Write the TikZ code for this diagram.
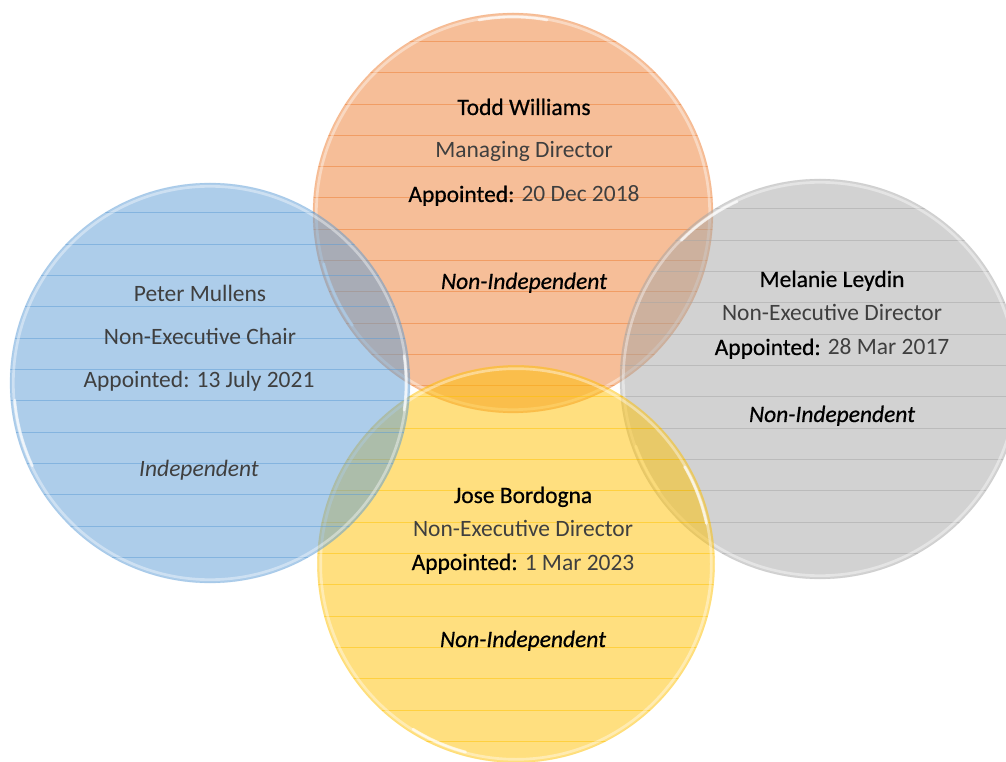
\documentclass[tikz,border=0pt]{standalone}
\usepackage{fontspec}
\setmainfont{Carlito}
\newfontfamily\heavyfont[FakeBold=0.6]{Carlito}
\definecolor{mdorange}{HTML}{ED7D31}
\definecolor{mdblue}{HTML}{5B9BD5}
\definecolor{mdgray}{HTML}{A5A5A5}
\definecolor{mdyellow}{HTML}{FFC000}
\definecolor{lighttext}{HTML}{3F3F3F}
\tikzset{%
    disc/.style={fill opacity=0.5},
    rule/.style={line width=0.75pt, draw opacity=0.5},
    rim/.style={draw=white, line width=2pt, draw opacity=0.4},
    edge/.style={line width=0.5pt, draw opacity=0.2},
    shine/.style={draw=white, line width=2pt, draw opacity=0.7, line cap=round},
    lite/.style={anchor=base, inner sep=0pt, text=lighttext, font=\fontsize{17.6}{21}\selectfont},
    dark/.style={anchor=base, inner sep=0pt, text=black, font=\fontsize{17.6}{21}\heavyfont},
}
\newcommand{\appt}{{\heavyfont\color{black}Appointed:}}

\begin{document}
\begin{tikzpicture}[x=0.75pt, y=-0.75pt]
    \useasboundingbox (0,0) rectangle (1006,762);
    % orange disc (bottom of the stack)
    \fill [disc, fill=mdorange] (513,213) circle[radius=150pt];
    \begin{scope}
        \clip (513,213) circle[radius=150pt];
        \foreach \k in {0,...,11}
            \draw [rule, mdorange] (300,41.5+31.3*\k) -- (730,41.5+31.3*\k);
    \end{scope}
    \draw [edge, mdorange] (513,213) circle[radius=150pt];
    \draw [rim] (513,213) circle[radius=147.5pt];
    \draw [shine] (513,213) +(195:147pt) arc(195:215:147pt);
    \draw [shine] (513,213) +(80:147pt) arc(80:100:147pt);
    % gray disc
    \fill [disc, fill=mdgray] (820,379) circle[radius=150pt];
    \begin{scope}
        \clip (820,379) circle[radius=150pt];
        \foreach \k in {0,...,11}
            \draw [rule, mdgray] (600,209+31.3*\k) -- (1040,209+31.3*\k);
    \end{scope}
    \draw [edge, mdgray] (820,379) circle[radius=150pt];
    \draw [rim] (820,379) circle[radius=147.5pt];
    \draw [shine] (820,379) +(115:147pt) arc(115:135:147pt);
    \draw [shine] (820,379) +(200:147pt) arc(200:215:147pt);
    % yellow disc
    \fill [disc, fill=mdyellow] (516,564) circle[radius=149pt];
    \begin{scope}
        \clip (516,564) circle[radius=149pt];
        \foreach \k in {0,...,11}
            \draw [rule, mdyellow] (300,397+31.3*\k) -- (730,397+31.3*\k);
    \end{scope}
    \draw [edge, mdyellow] (516,564) circle[radius=149pt];
    \draw [rim] (516,564) circle[radius=146.5pt];
    \draw [shine] (516,564) +(238:146pt) arc(238:255:146pt);
    \draw [shine] (516,564) +(12:146pt) arc(12:30:146pt);
    % blue disc (top of the stack)
    \fill [disc, fill=mdblue] (210,383) circle[radius=150pt];
    \begin{scope}
        \clip (210,383) circle[radius=150pt];
        \foreach \k in {0,...,11}
            \draw [rule, mdblue] (0,213+31.3*\k) -- (420,213+31.3*\k);
    \end{scope}
    \draw [edge, mdblue] (210,383) circle[radius=150pt];
    \draw [rim] (210,383) circle[radius=147.5pt];
    \draw [shine] (210,383) +(185:147pt) arc(185:205:147pt);
    \draw [shine] (210,383) +(-8:147pt) arc(-8:8:147pt);
    % texts
    \node (toddname) [dark] at (524,115) {Todd Williams};
    \node (toddrole) [lite] at (524,158) {Managing Director};
    \node (toddappt) [lite] at (524,202) {\appt{} 20 Dec 2018};
    \node (toddtype) [dark] at (524,289) {\itshape Non-Independent};
    \node (petername) [lite] at (200,302) {Peter Mullens};
    \node (peterrole) [lite] at (200,345) {Non-Executive Chair};
    \node (peterappt) [lite] at (199,388) {Appointed: 13 July 2021};
    \node (petertype) [lite] at (199,476) {\itshape Independent};
    \node (melname) [dark] at (832,287) {Melanie Leydin};
    \node (melrole) [lite] at (832,321) {Non-Executive Director};
    \node (melappt) [lite] at (832,355) {\appt{} 28 Mar 2017};
    \node (meltype) [dark] at (832,422) {\itshape Non-Independent};
    \node (josename) [dark] at (523,503) {Jose Bordogna};
    \node (joserole) [lite] at (523,536) {Non-Executive Director};
    \node (joseappt) [lite] at (523,570) {\appt{} 1 Mar 2023};
    \node (josetype) [dark] at (523,647) {\itshape Non-Independent};
\end{tikzpicture}
\end{document}
